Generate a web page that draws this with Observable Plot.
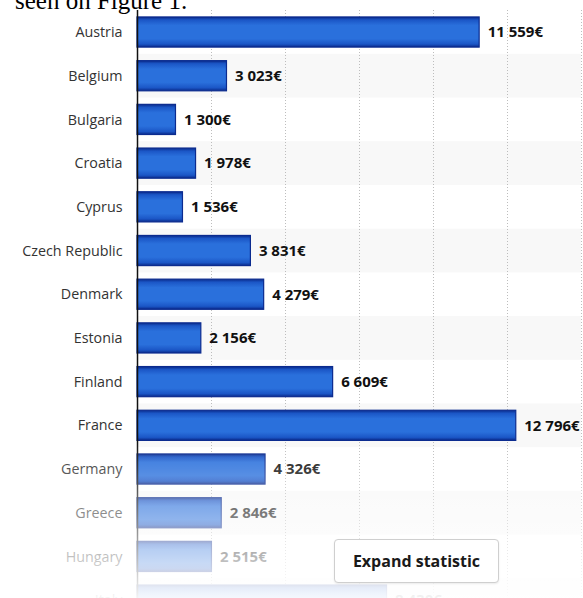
<!DOCTYPE html>
<html>
<head>
<meta charset="utf-8">
<script src="https://cdn.jsdelivr.net/npm/d3@7"></script>
<script src="https://cdn.jsdelivr.net/npm/@observablehq/plot@0.6"></script>
<style>
  html, body { margin: 0; padding: 0; background: #fff; }
  #wrap { position: relative; width: 583px; height: 598px; overflow: hidden; background: #fff; }
  #doctext { position: absolute; left: 15px; top: -13px; font: 25px "Liberation Serif", serif; color: #000; z-index: 3; white-space: nowrap; }
  #chart { position: absolute; left: 0; top: 0; }
  #fade { position: absolute; left: 0; top: 440px; width: 583px; height: 158px;
          background: linear-gradient(to bottom, rgba(255,255,255,0) 0%, rgba(255,255,255,0.95) 100%); z-index: 2; }
  #btn { position: absolute; left: 334px; top: 539px; width: 163px; height: 42px;
         border: 1px solid #cfcfcf; border-radius: 4px; background: #fff; z-index: 4;
         font: bold 16px "Open Sans", sans-serif; color: #1a1a1a; display: flex; align-items: center; justify-content: center;
         box-shadow: 0 1px 2px rgba(0,0,0,0.08); }
</style>
</head>
<body>
<div id="wrap">
  <div id="doctext">seen on Figure 1.</div>
  <div id="chart"></div>
  <div id="fade"></div>
  <div id="btn">Expand statistic</div>
</div>
<script>
const countries = ["Austria","Belgium","Bulgaria","Croatia","Cyprus","Czech Republic","Denmark","Estonia","Finland","France","Germany","Greece","Hungary","Italy"];
const values = [11559, 3023, 1300, 1978, 1536, 3831, 4279, 2156, 6609, 12796, 4326, 2846, 2515, 8430];
const gridTicks = [2500, 5000, 7500, 10000, 12500, 15000];

const data = countries.map((c, i) => ({country: c, value: values[i]}));
const stripes = countries.filter((c, i) => i % 2 === 1);

const loc = d3.formatLocale({decimal: ".", thousands: " ", grouping: [3], currency: ["", "€"]});
const fmt = loc.format(",");

const step = 43.7, pad = 0.31;
const chart = Plot.plot({
  width: 583,
  height: 598,
  marginLeft: 137,
  marginRight: 2,
  marginTop: 10,
  marginBottom: 0,
  style: {fontFamily: "'Open Sans', sans-serif", fontSize: "14.3px", color: "#333", background: "transparent"},
  x: {domain: [0, 15000], axis: null},
  y: {type: "band", domain: countries, range: [3.4, 3.4 + step * (countries.length + pad)], padding: pad, round: false,
      tickSize: 0, tickPadding: 15, label: null},
  marks: [
    Plot.barX(stripes, {y: d => d, x1: 0, x2: 15000, fill: "#f8f8f8", insetTop: -6.8, insetBottom: -6.8}),
    Plot.ruleX(gridTicks, {stroke: "#bdbdbd", strokeDasharray: "1,2", strokeWidth: 1}),
    Plot.barX(data, {y: "country", x: "value", fill: "url(#barGrad)", stroke: "#0b2b8f", strokeWidth: 1.2}),
    Plot.text(data, {y: "country", x: "value", text: d => fmt(d.value) + "€", textAnchor: "start", dx: 8,
                     fontWeight: "bold", fill: "#111", fontSize: 15}),
    Plot.ruleX([0], {stroke: "#111", strokeWidth: 1.5})
  ]
});

const defs = d3.select(chart).insert("defs", ":first-child");
const g = defs.append("linearGradient").attr("id", "barGrad").attr("x1", 0).attr("y1", 0).attr("x2", 0).attr("y2", 1);
[["0%", "#0a2a8a"], ["10%", "#1b56c6"], ["28%", "#2a70dc"], ["72%", "#2a70dc"], ["90%", "#1b56c6"], ["100%", "#0a2a8a"]]
  .forEach(([o, c]) => g.append("stop").attr("offset", o).attr("stop-color", c));

document.getElementById("chart").appendChild(chart);
</script>
</body>
</html>
